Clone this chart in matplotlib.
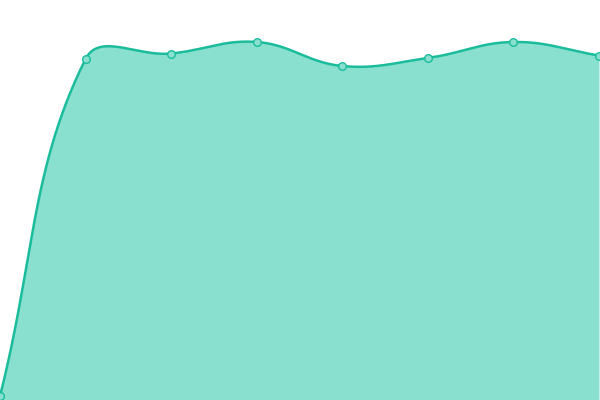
import matplotlib
matplotlib.use('Agg')
import matplotlib.pyplot as plt
import numpy as np

# values (chart has no axes shown)
labels = ['p0', 'p1', 'p2', 'p3', 'p4', 'p5', 'p6', 'p7']
values = [4, 341, 346.5, 358, 334, 342, 358, 344.5]

line_col = '#1abc9c'
fill_col = '#89e0cf'

W, H = 600, 400
ymax = 400
n = len(values)
xs = np.arange(n)

# pixel coordinates for the spline tension (chart.js style, tension 0.4)
px = xs * (W - 1) / (n - 1)
py = np.array(values) * H / ymax


def spline_controls(px, py, t=0.4):
    cps = []
    for i in range(len(px)):
        p0 = (px[max(i - 1, 0)], py[max(i - 1, 0)])
        p1 = (px[i], py[i])
        p2 = (px[min(i + 1, len(px) - 1)], py[min(i + 1, len(px) - 1)])
        d01 = np.hypot(p1[0] - p0[0], p1[1] - p0[1])
        d12 = np.hypot(p2[0] - p1[0], p2[1] - p1[1])
        s01 = d01 / (d01 + d12) if d01 + d12 else 0
        s12 = d12 / (d01 + d12) if d01 + d12 else 0
        fa, fb = t * s01, t * s12
        prev = (p1[0] - fa * (p2[0] - p0[0]), p1[1] - fa * (p2[1] - p0[1]))
        nxt = (p1[0] + fb * (p2[0] - p0[0]), p1[1] + fb * (p2[1] - p0[1]))
        cps.append((prev, nxt))
    return cps


cps = spline_controls(px, py)
tt = np.linspace(0, 1, 60)
cx, cy = [], []
for i in range(n - 1):
    a = (px[i], py[i])
    b = cps[i][1]
    c = cps[i + 1][0]
    d = (px[i + 1], py[i + 1])
    bx = (1 - tt)**3 * a[0] + 3 * (1 - tt)**2 * tt * b[0] + 3 * (1 - tt) * tt**2 * c[0] + tt**3 * d[0]
    by = (1 - tt)**3 * a[1] + 3 * (1 - tt)**2 * tt * b[1] + 3 * (1 - tt) * tt**2 * c[1] + tt**3 * d[1]
    cx.extend(bx)
    cy.extend(by)
cx = np.array(cx)
cy = np.clip(np.array(cy), 0, H)

fig = plt.figure(figsize=(6, 4), dpi=100)
ax = fig.add_axes([0, 0, 1, 1])
ax.fill_between(cx, 0, cy, color=fill_col, lw=0)
ax.plot(cx, cy, color=line_col, lw=1.8, solid_capstyle='round')
ax.plot(px, py, 'o', ms=5.5, mfc=fill_col, mec=line_col, mew=1, clip_on=False)
ax.set_xlim(0, W)
ax.set_ylim(0, H)
ax.axis('off')
fig.savefig('out.png', dpi=100)
